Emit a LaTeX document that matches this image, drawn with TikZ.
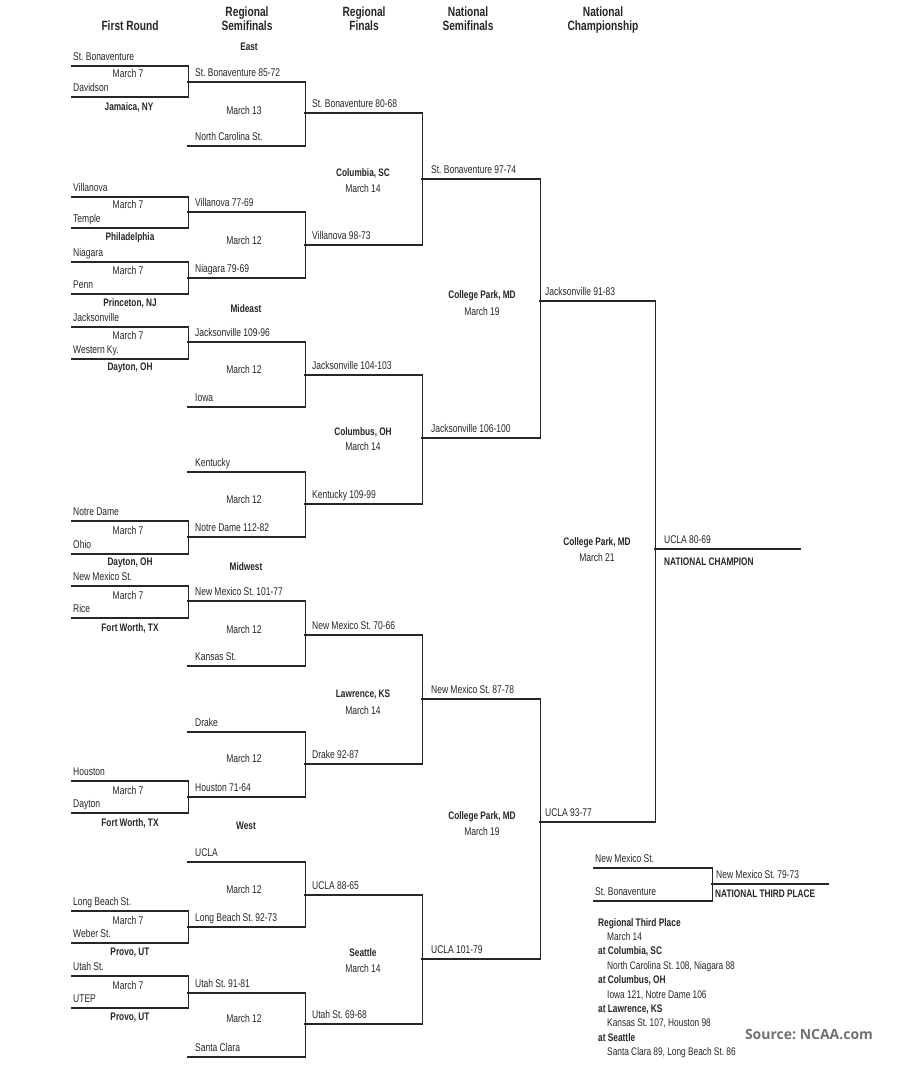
\documentclass[tikz,border=0pt]{standalone}
\usepackage{fontspec}
\setmainfont{Liberation Sans}[FakeStretch=0.76, WordSpace=0.95]
\newfontfamily\srcfont{Open Sans}
\definecolor{ink}{HTML}{262626}
\definecolor{srcgray}{HTML}{707070}
\frenchspacing

\begin{document}
\begin{tikzpicture}[x=1pt, y=-1pt, text=ink, font=\fontsize{11.2}{12}\selectfont]
\tikzset{bline/.style={draw=ink, line width=1.4pt, line cap=rect},
  slot/.style 2 args={anchor=south west, inner xsep=#2, inner ysep=5.5pt, text width=#1,
    text height=7pt, text depth=0pt, align=flush left,
    append after command={(\tikzlastnode.south west) edge[bline] (\tikzlastnode.south east)}},
  rA/.style={slot={114pt}{1pt}},
  rB/.style={slot={103pt}{7pt}},
  rC/.style={slot={103pt}{7pt}},
  rD/.style={slot={100pt}{9pt}},
  rE/.style={slot={105pt}{5pt}},
  rF/.style={slot={127pt}{9pt}},
  tA/.style={slot={116pt}{1pt}},
  tB/.style={slot={108pt}{4pt}},
  head/.style={font=\fontsize{13.4}{14}\selectfont\bfseries, align=center},
  venue/.style={font=\fontsize{10.9}{12}\selectfont\bfseries, inner sep=1pt},
  date/.style={inner sep=1pt}}
\useasboundingbox (0,0) rectangle (900,1080);

% headings
\node[head] (hR1) at (130,26) {First Round};
\node[head] (hR2) at (247,19) {Regional\\Semifinals};
\node[head] (hR3) at (364,19) {Regional\\Finals};
\node[head] (hR4) at (468,19) {National\\Semifinals};
\node[head] (hR5) at (603,20) {National\\Championship};

% East
\node[venue] (gE) at (249,47) {East};
\node[rA] (sbon1) at (72,66) {St. Bonaventure};
\node[rA] (dav) at (72,97) {Davidson};
\node[date] (dE1) at (128,73) {March 7};
\node[venue] (vE1) at (129,107) {Jamaica, NY};
\node[rB] (sbon2) at (188,82) {St. Bonaventure 85-72};
\node[rB] (ncst) at (188,146) {North Carolina St.};
\node[date] (dE2) at (244,110) {March 13};
\node[rC] (sbon3) at (305,113) {St. Bonaventure 80-68};
\node[rA] (vill1) at (72,197) {Villanova};
\node[rA] (temp) at (72,228) {Temple};
\node[date] (dE3) at (128,204) {March 7};
\node[venue] (vE2) at (130,238) {Philadelphia};
\node[rA] (niag1) at (72,262) {Niagara};
\node[rA] (penn) at (72,294) {Penn};
\node[date] (dE4) at (128,270) {March 7};
\node[venue] (vE3) at (130,303) {Princeton, NJ};
\node[rB] (vill2) at (188,212) {Villanova 77-69};
\node[rB] (niag2) at (188,278) {Niagara 79-69};
\node[date] (dE5) at (244,240) {March 12};
\node[rC] (vill3) at (305,245) {Villanova 98-73};
\node[venue] (vE4) at (363,173) {Columbia, SC};
\node[date] (dE6) at (363,188) {March 14};
\node[rD] (sbon4) at (422,179) {St. Bonaventure 97-74};

% Mideast
\node[venue] (gME) at (246,309) {Mideast};
\node[rA] (jack1) at (72,327) {Jacksonville};
\node[rA] (wky) at (72,359) {Western Ky.};
\node[date] (dME1) at (128,335) {March 7};
\node[venue] (vME1) at (130,368) {Dayton, OH};
\node[rB] (jack2) at (188,342) {Jacksonville 109-96};
\node[rB] (iowa) at (188,407) {Iowa};
\node[date] (dME2) at (244,369) {March 12};
\node[rC] (jack3) at (305,375) {Jacksonville 104-103};
\node[venue] (vME2) at (363,432) {Columbus, OH};
\node[date] (dME3) at (363,446) {March 14};
\node[rB] (kent) at (188,472) {Kentucky};
\node[date] (dME4) at (244,499) {March 12};
\node[rA] (nd1) at (72,521) {Notre Dame};
\node[rA] (ohio) at (72,554) {Ohio};
\node[date] (dME5) at (128,530) {March 7};
\node[venue] (vME3) at (130,563) {Dayton, OH};
\node[rB] (nd2) at (188,537) {Notre Dame 112-82};
\node[rC] (kent3) at (305,504) {Kentucky 109-99};
\node[rD] (jack4) at (422,438) {Jacksonville 106-100};
\node[venue] (vN1) at (482,296) {College Park, MD};
\node[date] (dN1) at (482,311) {March 19};
\node[rE] (jack5) at (540,301) {Jacksonville 91-83};

% Midwest
\node[venue] (gMW) at (246,567) {Midwest};
\node[rA] (nmst1) at (72,586) {New Mexico St.};
\node[rA] (rice) at (72,618) {Rice};
\node[date] (dMW1) at (128,595) {March 7};
\node[venue] (vMW1) at (130,628) {Fort Worth, TX};
\node[rB] (nmst2) at (188,601) {New Mexico St. 101-77};
\node[rB] (kst) at (188,666) {Kansas St.};
\node[date] (dMW2) at (244,629) {March 12};
\node[rC] (nmst3) at (305,635) {New Mexico St. 70-66};
\node[venue] (vMW2) at (363,695) {Lawrence, KS};
\node[date] (dMW3) at (363,710) {March 14};
\node[rB] (drake) at (188,732) {Drake};
\node[date] (dMW4) at (244,758) {March 12};
\node[rA] (hou1) at (72,781) {Houston};
\node[rA] (dayt) at (72,813) {Dayton};
\node[date] (dMW5) at (128,790) {March 7};
\node[venue] (vMW3) at (130,823) {Fort Worth, TX};
\node[rB] (hou2) at (188,797) {Houston 71-64};
\node[rC] (drake3) at (305,764) {Drake 92-87};
\node[rD] (nmst4) at (422,699) {New Mexico St. 87-78};

% West
\node[venue] (gW) at (246,826) {West};
\node[rB] (ucla2) at (188,862) {UCLA};
\node[date] (dW1) at (244,889) {March 12};
\node[rA] (lbs1) at (72,911) {Long Beach St.};
\node[rA] (web) at (72,943) {Weber St.};
\node[date] (dW2) at (128,920) {March 7};
\node[venue] (vW1) at (130,953) {Provo, UT};
\node[rB] (lbs2) at (188,927) {Long Beach St. 92-73};
\node[rC] (ucla3) at (305,895) {UCLA 88-65};
\node[venue] (vW2) at (363,953) {Seattle};
\node[date] (dW3) at (363,968) {March 14};
\node[rA] (ust1) at (72,976) {Utah St.};
\node[rA] (utep) at (72,1008) {UTEP};
\node[date] (dW4) at (128,985) {March 7};
\node[venue] (vW3) at (130,1018) {Provo, UT};
\node[rB] (ust2) at (188,993) {Utah St. 91-81};
\node[rB] (scl) at (188,1057) {Santa Clara};
\node[date] (dW5) at (244,1018) {March 12};
\node[rC] (ust3) at (305,1024) {Utah St. 69-68};
\node[rD] (ucla4) at (422,959) {UCLA 101-79};
\node[venue] (vN2) at (482,817) {College Park, MD};
\node[date] (dN2) at (482,831) {March 19};
\node[rE] (ucla5) at (540,822) {UCLA 93-77};

% final
\node[venue] (vF) at (597,543) {College Park, MD};
\node[date] (dF) at (597,557) {March 21};
\node[rF] (champ) at (655,549) {UCLA 80-69};
\node[venue, anchor=west] (champlbl) at (663,562) {NATIONAL CHAMPION};

% third place
\node[tA] (nm3p) at (594,868) {New Mexico St.};
\node[tA] (sb3p) at (594,901) {St. Bonaventure};
\node[tB] (win3p) at (712,884) {New Mexico St. 79-73};
\node[venue, anchor=west] (thirdlbl) at (714,894) {NATIONAL THIRD PLACE};
\node[anchor=north west, align=left, inner sep=1pt, font=\fontsize{11}{14.4}\selectfont] (notes) at (597,917)
  {\textbf{Regional Third Place}\\
   \hspace*{9pt}March 14\\
   \textbf{at Columbia, SC}\\
   \hspace*{9pt}North Carolina St. 108, Niagara 88\\
   \textbf{at Columbus, OH}\\
   \hspace*{9pt}Iowa 121, Notre Dame 106\\
   \textbf{at Lawrence, KS}\\
   \hspace*{9pt}Kansas St. 107, Houston 98\\
   \textbf{at Seattle}\\
   \hspace*{9pt}Santa Clara 89, Long Beach St. 86};
\node[text=srcgray, font=\srcfont\bfseries\fontsize{14}{16}\selectfont] (src) at (809,1035) {Source: NCAA.com};

% bracket connectors
\draw[bline] (sbon1.south east) -- (dav.south east);
\draw[bline] (vill1.south east) -- (temp.south east);
\draw[bline] (niag1.south east) -- (penn.south east);
\draw[bline] (sbon2.south east) -- (ncst.south east);
\draw[bline] (vill2.south east) -- (niag2.south east);
\draw[bline] (sbon3.south east) -- (vill3.south east);
\draw[bline] (jack1.south east) -- (wky.south east);
\draw[bline] (nd1.south east) -- (ohio.south east);
\draw[bline] (jack2.south east) -- (iowa.south east);
\draw[bline] (kent.south east) -- (nd2.south east);
\draw[bline] (jack3.south east) -- (kent3.south east);
\draw[bline] (sbon4.south east) -- (jack4.south east);
\draw[bline] (nmst1.south east) -- (rice.south east);
\draw[bline] (hou1.south east) -- (dayt.south east);
\draw[bline] (nmst2.south east) -- (kst.south east);
\draw[bline] (drake.south east) -- (hou2.south east);
\draw[bline] (nmst3.south east) -- (drake3.south east);
\draw[bline] (lbs1.south east) -- (web.south east);
\draw[bline] (ust1.south east) -- (utep.south east);
\draw[bline] (ucla2.south east) -- (lbs2.south east);
\draw[bline] (ust2.south east) -- (scl.south east);
\draw[bline] (ucla3.south east) -- (ust3.south east);
\draw[bline] (nmst4.south east) -- (ucla4.south east);
\draw[bline] (jack5.south east) -- (ucla5.south east);
\draw[bline] (nm3p.south east) -- (sb3p.south east);
\end{tikzpicture}
\end{document}
